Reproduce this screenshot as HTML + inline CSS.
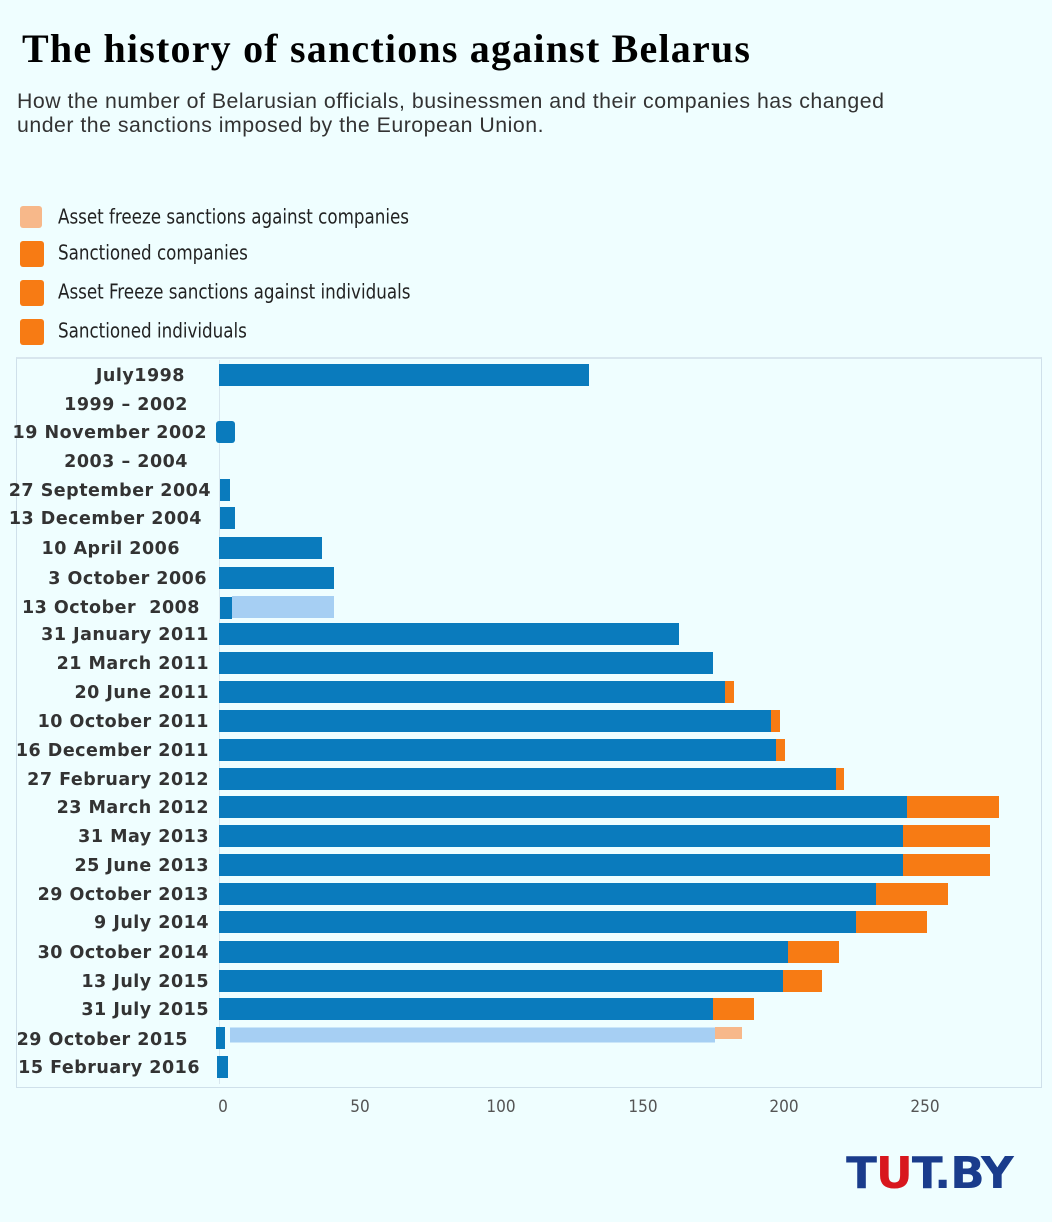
<!DOCTYPE html>
<html><head><style>
body{margin:0;background:#effeff;}
.w{position:relative;width:1052px;height:1222px;overflow:hidden;background:#effeff;font-family:"Liberation Sans",sans-serif;}
.t{position:absolute;left:22px;top:25px;font:bold 40px "Liberation Serif",serif;color:#000;letter-spacing:1.2px;}
.s{position:absolute;left:17px;top:89px;font-size:21.3px;line-height:24px;color:#333;letter-spacing:0.5px;}
.lg{position:absolute;left:20px;width:24px;height:26px;border-radius:3px;}
.lt{position:absolute;left:58px;font:18.6px "DejaVu Sans Condensed","Liberation Sans",sans-serif;color:#222;transform:scaleY(1.1);}
.box{position:absolute;left:16px;top:357px;width:1024px;height:728px;border:1px solid #cfe0ea;border-top:2px solid #d8e6ee;}
.lab{position:absolute;right:842px;font:bold 17.5px "DejaVu Sans",sans-serif;letter-spacing:0.5px;color:#333;white-space:nowrap;transform:translateY(-50%);}
.b{position:absolute;height:22px;transform:translateY(-50%);}
.bl{background:#0a7bbd}.or{background:#f77b14}.lb{background:#a6cff3}.pe{background:#f7b88a}
.tk{position:absolute;top:1097px;font:17px "DejaVu Sans Condensed",sans-serif;color:#555;transform:translateX(-50%);}
</style></head><body><div class="w">
<div class="t">The history of sanctions against Belarus</div>
<div class="s">How the number of Belarusian officials, businessmen and their companies has changed<br>under the sanctions imposed by the European Union.</div>
<div class="lg" style="top:206px;background:#f7b88a;width:22px;height:22px"></div><div class="lt" style="top:207px">Asset freeze sanctions against companies</div>
<div class="lg" style="top:241px;background:#f77b14"></div><div class="lt" style="top:243px">Sanctioned companies</div>
<div class="lg" style="top:280px;background:#f77b14"></div><div class="lt" style="top:282px">Asset Freeze sanctions against individuals</div>
<div class="lg" style="top:319px;background:#f77b14"></div><div class="lt" style="top:321px">Sanctioned individuals</div>
<div class="box"></div>
<div style="position:absolute;left:219px;top:360px;width:1px;height:724px;background:#d8e6ee"></div>

<div class="lab" style="top:376px;right:867px">July1998</div><div class="b bl" style="top:375px;left:219px;width:370px"></div>
<div class="lab" style="top:405px;right:864px">1999 – 2002</div>
<div class="lab" style="top:433px;right:845px">19 November 2002</div><div class="b bl" style="top:432px;left:216px;width:19px;border-radius:3px"></div>
<div class="lab" style="top:462px;right:864px">2003 – 2004</div>
<div class="lab" style="top:491px;right:841px">27 September 2004</div><div class="b bl" style="top:490px;left:220px;width:10px"></div>
<div class="lab" style="top:519px;right:850px">13 December 2004</div><div class="b bl" style="top:518px;left:220px;width:15px"></div>
<div class="lab" style="top:549px;right:872px">10 April 2006</div><div class="b bl" style="top:548px;left:219px;width:103px"></div>
<div class="lab" style="top:579px;right:845px">3 October 2006</div><div class="b bl" style="top:578px;left:219px;width:115px"></div>
<div class="lab" style="top:608px;right:852px">13 October&nbsp; 2008</div><div class="b lb" style="top:607px;left:232px;width:102px"></div><div class="b bl" style="top:608px;left:220px;width:12px"></div>
<div class="lab" style="top:635px;right:843px">31 January 2011</div><div class="b bl" style="top:634px;left:219px;width:460px"></div>
<div class="lab" style="top:664px;right:843px">21 March 2011</div><div class="b bl" style="top:663px;left:219px;width:494px"></div>
<div class="lab" style="top:693px;right:843px">20 June 2011</div><div class="b bl" style="top:692px;left:219px;width:506px"></div><div class="b or" style="top:692px;left:725px;width:9px"></div>
<div class="lab" style="top:722px;right:843px">10 October 2011</div><div class="b bl" style="top:721px;left:219px;width:552px"></div><div class="b or" style="top:721px;left:771px;width:9px"></div>
<div class="lab" style="top:751px;right:843px">16 December 2011</div><div class="b bl" style="top:750px;left:219px;width:557px"></div><div class="b or" style="top:750px;left:776px;width:9px"></div>
<div class="lab" style="top:780px;right:843px">27 February 2012</div><div class="b bl" style="top:779px;left:219px;width:617px"></div><div class="b or" style="top:779px;left:836px;width:8px"></div>
<div class="lab" style="top:808px;right:843px">23 March 2012</div><div class="b bl" style="top:807px;left:219px;width:688px"></div><div class="b or" style="top:807px;left:907px;width:92px"></div>
<div class="lab" style="top:837px;right:843px">31 May 2013</div><div class="b bl" style="top:836px;left:219px;width:684px"></div><div class="b or" style="top:836px;left:903px;width:87px"></div>
<div class="lab" style="top:866px;right:843px">25 June 2013</div><div class="b bl" style="top:865px;left:219px;width:684px"></div><div class="b or" style="top:865px;left:903px;width:87px"></div>
<div class="lab" style="top:895px;right:843px">29 October 2013</div><div class="b bl" style="top:894px;left:219px;width:657px"></div><div class="b or" style="top:894px;left:876px;width:72px"></div>
<div class="lab" style="top:923px;right:843px">9 July 2014</div><div class="b bl" style="top:922px;left:219px;width:637px"></div><div class="b or" style="top:922px;left:856px;width:71px"></div>
<div class="lab" style="top:953px;right:843px">30 October 2014</div><div class="b bl" style="top:952px;left:219px;width:569px"></div><div class="b or" style="top:952px;left:788px;width:51px"></div>
<div class="lab" style="top:982px;right:843px">13 July 2015</div><div class="b bl" style="top:981px;left:219px;width:564px"></div><div class="b or" style="top:981px;left:783px;width:39px"></div>
<div class="lab" style="top:1010px;right:843px">31 July 2015</div><div class="b bl" style="top:1009px;left:219px;width:494px"></div><div class="b or" style="top:1009px;left:713px;width:41px"></div>
<div class="lab" style="top:1040px;right:864px">29 October 2015</div><div class="b lb" style="top:1035px;left:230px;width:485px;height:15px"></div><div class="b pe" style="top:1033px;left:715px;width:27px;height:12px"></div><div class="b bl" style="top:1038px;left:216px;width:9px"></div>
<div class="lab" style="top:1068px;right:852px">15 February 2016</div><div class="b bl" style="top:1067px;left:217px;width:11px"></div>

<div class="tk" style="left:223px">0</div><div class="tk" style="left:360px">50</div><div class="tk" style="left:501px">100</div><div class="tk" style="left:643px">150</div><div class="tk" style="left:784px">200</div><div class="tk" style="left:925px">250</div>

<div style="position:absolute;left:846px;top:1148px;font:bold 44px 'DejaVu Sans Condensed',sans-serif;color:#1a3c8c;letter-spacing:-1px;transform:scaleX(1.15);transform-origin:left top">T<span style="color:#d8171e">U</span>T.BY</div>
</div></body></html>
